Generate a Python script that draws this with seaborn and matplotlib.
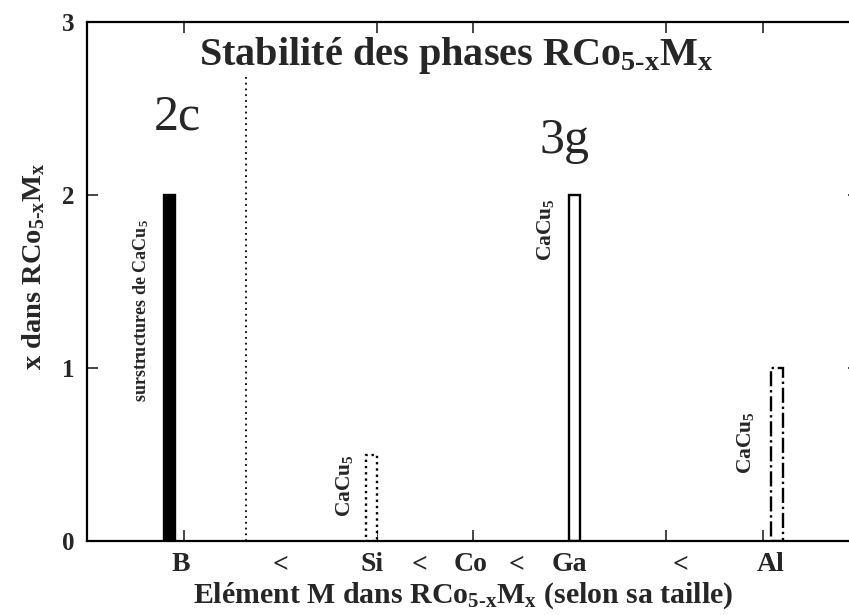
import matplotlib
matplotlib.use('Agg')
import matplotlib.pyplot as plt
import seaborn as sns
import pandas as pd

# Elements M placed along a size scale, and the largest x reached for each
elements = ['B', 'Si', 'Ga', 'Al']
element_pos = [0.855, 2.95, 5.05, 7.15]
x_max = [2.0, 0.5, 2.0, 1.0]

# x axis labels (size order)
tick_labels = ['B', '<', 'Si', '<', 'Co', '<', 'Ga', '<', 'Al']
tick_pos = [0.97, 2.0, 2.95, 3.45, 3.97, 4.45, 5.0, 6.15, 7.08]

# crystallographic sites
site_labels = ['2c', '3g']
site_x = [0.94, 4.95]
site_y = [2.38, 2.24]
divider_x = 1.65
divider_top = 2.69

# structure type written next to each bar
sub5 = r'$_{\mathbf{5}}$'
structure_labels = ['surstructures de CaCu' + sub5, 'CaCu' + sub5,
                    'CaCu' + sub5, 'CaCu' + sub5]
structure_x = [0.56, 2.67, 4.75, 6.82]
structure_y = [1.33, 0.32, 1.80, 0.57]
structure_size = [13, 15.5, 15.5, 15.5]

formula = r'RCo$_{\mathbf{5}\text{-}\mathbf{x}}$M$_{\mathbf{x}}$'

sns.set_style('white')
plt.rcParams['font.family'] = ['Liberation Serif', 'DejaVu Serif']
plt.rcParams['font.weight'] = 'bold'
plt.rcParams['axes.labelweight'] = 'bold'
plt.rcParams['mathtext.fontset'] = 'custom'
plt.rcParams['mathtext.rm'] = 'Liberation Serif:bold'
plt.rcParams['mathtext.bf'] = 'Liberation Serif:bold'
plt.rcParams['mathtext.it'] = 'Liberation Serif:bold'
plt.rcParams['axes.edgecolor'] = 'black'

df = pd.DataFrame({'pos': element_pos, 'x': x_max, 'M': elements})

fig = plt.figure(figsize=(8.49, 6.15), dpi=100)
ax = fig.add_axes([87 / 849, 74 / 615, 772 / 849, 519 / 615])

sns.barplot(data=df, x='pos', y='x', native_scale=True, width=0.057,
            color='white', saturation=1, edgecolor='black', linewidth=1.7,
            errorbar=None, ax=ax)

# each bar gets its own look, as in the original figure
fills = ['black', 'white', 'white', 'white']
styles = ['-', ':', '-', '-.']
for patch, fc, ls in zip(ax.patches, fills, styles):
    patch.set_facecolor(fc)
    patch.set_linestyle(ls)

ax.plot([divider_x, divider_x], [0, divider_top], color='black', lw=1.3,
        dashes=(1, 2.2))

for lab, sx, sy in zip(site_labels, site_x, site_y):
    ax.text(sx, sy, lab, fontsize=36, fontweight='normal', ha='center', va='baseline')

for lab, sx, sy, fs in zip(structure_labels, structure_x, structure_y, structure_size):
    ax.text(sx, sy, lab, fontsize=fs, rotation=90, ha='center', va='center')

ax.text(0.479, 0.917, 'Stabilité des phases ' + formula,
        transform=ax.transAxes, fontsize=29, ha='center', va='baseline')

ax.set_xlim(0, 8)
ax.set_ylim(0, 3)
ax.set_yticks([0, 1, 2, 3])
ax.set_xticks(tick_pos, tick_labels)
ax.set_xticks(range(1, 8), minor=True)
ax.tick_params(axis='y', direction='in', length=8, width=1.2, left=True, right=True,
               labelsize=18, pad=9)
ax.tick_params(axis='x', which='major', length=0, labelsize=20, pad=8)
ax.tick_params(axis='x', which='minor', direction='in', length=8, width=1.2,
               bottom=True, top=True)
for s in ax.spines.values():
    s.set_linewidth(1.6)

ax.set_xlabel('Elément M dans ' + formula + ' (selon sa taille)', fontsize=21.5)
ax.set_ylabel('x dans ' + formula, fontsize=20.5)
ax.xaxis.set_label_coords(0.487, -0.075)
ax.yaxis.set_label_coords(-0.052, 0.53)

fig.savefig('out.png', dpi=100)
